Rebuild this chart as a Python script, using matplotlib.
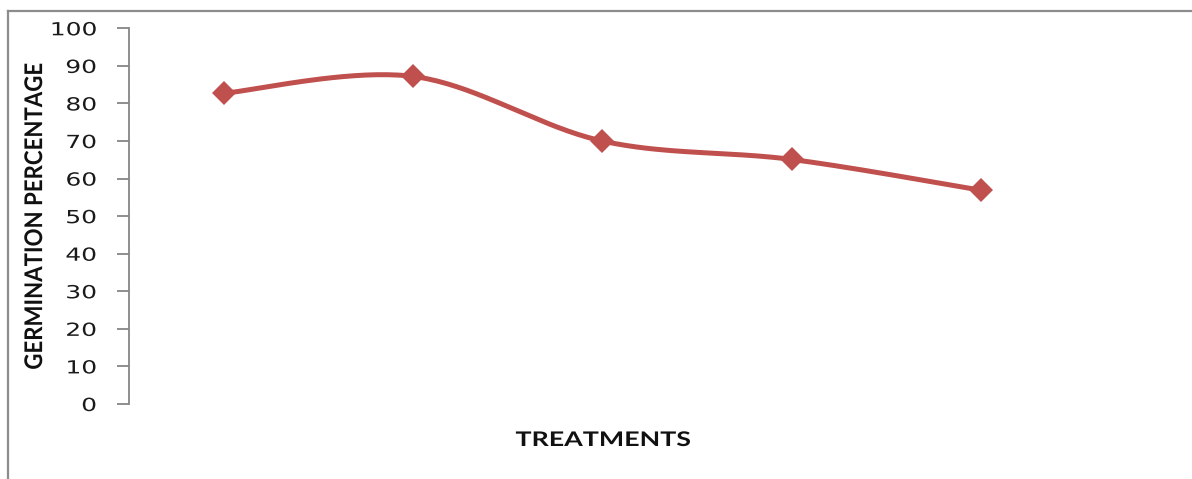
import numpy as np
import matplotlib
matplotlib.use("Agg")
import matplotlib.pyplot as plt
from matplotlib.lines import Line2D
from matplotlib.patheffects import AbstractPathEffect
from matplotlib.transforms import Affine2D

# Germination percentage for each treatment
treatments = [1, 2, 3, 4, 5]
germination = [82.7, 87.2, 70.0, 65.1, 56.9]
y_ticks = [0, 10, 20, 30, 40, 50, 60, 70, 80, 90, 100]

LINE_COLOR = "#C0504D"
AXIS_GRAY = "#868686"


class Stretch(AbstractPathEffect):
    """Widen text horizontally around a chosen anchor."""

    def __init__(self, sx, anchor="center"):
        super().__init__()
        self.sx = sx
        self.anchor = anchor

    def draw_path(self, renderer, gc, tpath, affine, rgbFace=None):
        ext = affine.transform_path(tpath).get_extents()
        if self.anchor == "right":
            cx = ext.x1
        elif self.anchor == "left":
            cx = ext.x0
        else:
            cx = 0.5 * (ext.x0 + ext.x1)
        aff = affine + Affine2D().translate(-cx, 0).scale(self.sx, 1).translate(cx, 0)
        renderer.draw_path(gc, tpath, aff, rgbFace)


def smooth_curve(xs, ys, n=40):
    """Cardinal (Catmull-Rom) Bezier smoothing through every point."""
    P = np.column_stack([xs, ys]).astype(float)
    Pext = np.vstack([P[0], P, P[-1]])
    out = []
    t = np.linspace(0, 1, n)[:, None]
    for i in range(len(P) - 1):
        p0, p3 = Pext[i + 1], Pext[i + 2]
        c1 = p0 + (Pext[i + 2] - Pext[i]) / 6.0
        c2 = p3 - (Pext[i + 3] - Pext[i + 1]) / 6.0
        seg = ((1 - t) ** 3) * p0 + 3 * ((1 - t) ** 2) * t * c1 + 3 * (1 - t) * t ** 2 * c2 + t ** 3 * p3
        out.append(seg if i == 0 else seg[1:])
    seg = np.vstack(out)
    return seg[:, 0], seg[:, 1]


fig = plt.figure(figsize=(11.92, 4.79), dpi=100)
fig.patch.set_facecolor("white")

ax = fig.add_axes([0.1082, 0.1566, 0.9023 - 0.1082, 0.9409 - 0.1566])

xpos = np.arange(len(treatments))
sx, sy = smooth_curve(xpos, germination)
ax.plot(sx, sy, color=LINE_COLOR, lw=3.6, solid_capstyle="round", zorder=3)
ax.plot(xpos, germination, linestyle="none", marker="D", markersize=12,
        color=LINE_COLOR, markeredgewidth=0, zorder=4)

ax.set_xlim(-0.5, len(treatments) - 0.5)
ax.set_ylim(0, 100)
ax.set_yticks(y_ticks)
ax.set_xticks([])

for side in ("top", "right", "bottom"):
    ax.spines[side].set_visible(False)
ax.spines["left"].set_color(AXIS_GRAY)
ax.spines["left"].set_linewidth(1.3)
ax.tick_params(axis="y", direction="out", length=8.5, width=1.3, color=AXIS_GRAY,
               pad=15, labelsize=13, labelcolor="#1a1a1a")
for lbl in ax.get_yticklabels():
    lbl.set_path_effects([Stretch(1.38, "right")])

ax.set_ylabel("GERMINATION PERCENTAGE", fontsize=16, fontweight="bold",
              family="Lato", color="#111111", labelpad=0)
ax.yaxis.set_label_coords(-0.0884, 0.5)
ax.yaxis.label.set_path_effects([Stretch(1.1, "center")])

fig.text(603 / 1192, 1 - 440 / 479, "TREATMENTS", ha="center", va="center",
         fontsize=14.5, fontweight="bold", family="Lato", color="#111111",
         path_effects=[Stretch(1.33, "center")])

# Outer chart frame (left and top edges)
frame_kw = dict(color="#8c8c8c", lw=1.6, transform=fig.transFigure)
fig.add_artist(Line2D([8 / 1192, 8 / 1192], [0, 1 - 11 / 479], **frame_kw))
fig.add_artist(Line2D([8 / 1192, 1], [1 - 11 / 479, 1 - 11 / 479], **frame_kw))

fig.savefig("out.png", dpi=100, facecolor="white")
